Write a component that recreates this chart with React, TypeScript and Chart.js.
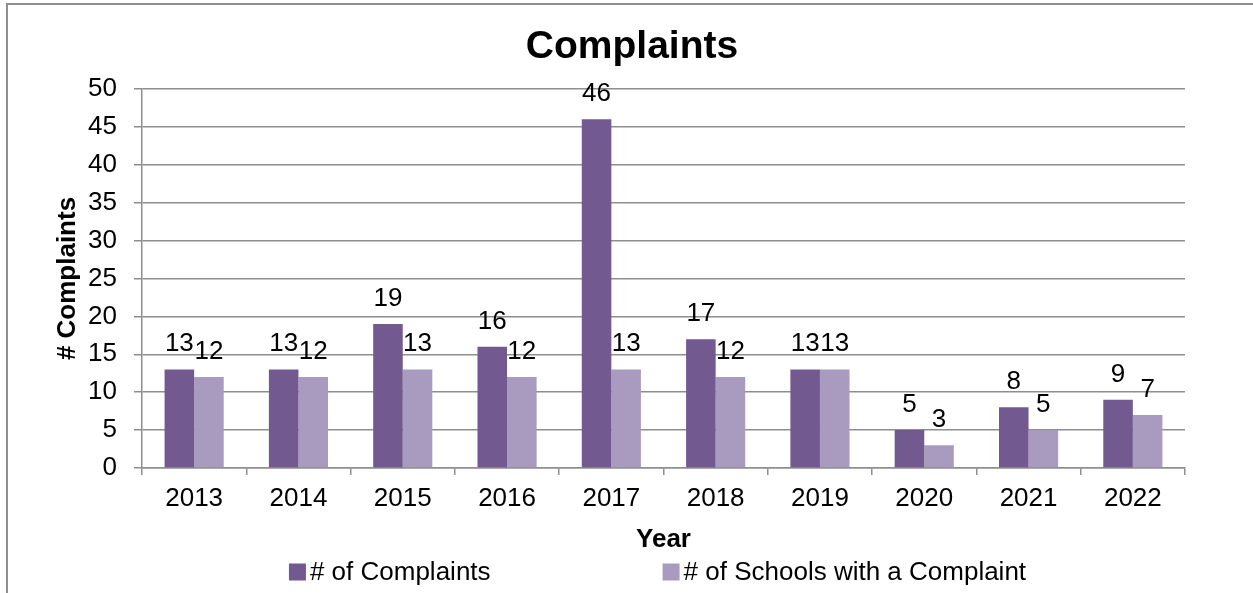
import React, { useEffect, useRef } from "react";
import { Chart, registerables } from "chart.js";

Chart.register(...registerables);

const years = ["2013", "2014", "2015", "2016", "2017", "2018", "2019", "2020", "2021", "2022"];
const complaints = [13, 13, 19, 16, 46, 17, 13, 5, 8, 9];
const schoolsWithComplaint = [12, 12, 13, 12, 13, 12, 13, 3, 5, 7];
const seriesLabels = ["# of Complaints", "# of Schools with a Complaint"];
const seriesColors = ["#725A91", "#A99BBF"];

const FONT = "'Liberation Sans', Arial, sans-serif";
const GRID = "#8e8e8e";

const frame = {
  id: "frame",
  beforeDraw(chart: any) {
    const ctx = chart.ctx;
    ctx.save();
    ctx.fillStyle = "#ffffff";
    ctx.fillRect(0, 0, chart.width, chart.height);
    ctx.strokeStyle = GRID;
    ctx.lineWidth = 2;
    ctx.strokeRect(7, 4, chart.width + 100, chart.height + 100);
    ctx.restore();
  },
};

const valueLabels = {
  id: "valueLabels",
  afterDatasetsDraw(chart: any) {
    const ctx = chart.ctx;
    ctx.save();
    ctx.font = `26px ${FONT}`;
    ctx.fillStyle = "#000000";
    ctx.textAlign = "center";
    ctx.textBaseline = "alphabetic";
    chart.data.datasets.forEach((ds: any, i: number) => {
      const meta = chart.getDatasetMeta(i);
      meta.data.forEach((bar: any, j: number) => {
        ctx.fillText(String(ds.data[j]), bar.x, bar.y - 18);
      });
    });
    ctx.restore();
  },
};

const bottomLegend = {
  id: "bottomLegend",
  afterDraw(chart: any) {
    const ctx = chart.ctx;
    const area = chart.chartArea;
    ctx.save();
    ctx.font = `26px ${FONT}`;
    ctx.textBaseline = "middle";
    ctx.textAlign = "left";
    const box = 17;
    const boxGap = 4;
    const itemGap = 172;
    const items = chart.data.datasets.map((ds: any) => ({
      label: ds.label,
      color: ds.backgroundColor,
      w: box + boxGap + ctx.measureText(ds.label).width,
    }));
    const total = items.reduce((s: number, it: any) => s + it.w, 0) + itemGap * (items.length - 1);
    let x = (area.left + area.right) / 2 - 6 - total / 2;
    const y = 572;
    items.forEach((it: any) => {
      ctx.fillStyle = it.color;
      ctx.fillRect(x, y - box / 2, box, box);
      ctx.fillStyle = "#000000";
      ctx.fillText(it.label, x + box + boxGap, y + 1);
      x += it.w + itemGap;
    });
    ctx.restore();
  },
};

export default function App() {
  const ref = useRef<HTMLCanvasElement | null>(null);

  useEffect(() => {
    document.body.style.margin = "0";
    if (!ref.current) return;
    const chart = new Chart(ref.current, {
      type: "bar",
      data: {
        labels: years,
        datasets: [
          {
            label: seriesLabels[0],
            data: complaints,
            backgroundColor: seriesColors[0],
            borderWidth: 0,
          },
          {
            label: seriesLabels[1],
            data: schoolsWithComplaint,
            backgroundColor: seriesColors[1],
            borderWidth: 0,
          },
        ],
      },
      options: {
        animation: false,
        responsive: true,
        maintainAspectRatio: false,
        layout: { padding: { left: 79, right: 68, top: 0, bottom: 38 } },
        datasets: { bar: { categoryPercentage: 0.567, barPercentage: 1 } },
        plugins: {
          legend: { display: false },
          tooltip: { enabled: false },
          title: {
            display: true,
            text: "Complaints",
            color: "#000000",
            font: { family: FONT, size: 39, weight: "bold" },
            padding: { top: 24, bottom: 18.2 },
          },
        },
        scales: {
          x: {
            afterFit(scale: any) {
              scale.height = 87;
            },
            grid: {
              display: true,
              drawOnChartArea: false,
              drawTicks: true,
              tickLength: 7,
              color: GRID,
              lineWidth: 1.5,
              offset: true,
            },
            border: { display: true, color: GRID, width: 1.5 },
            ticks: {
              color: "#000000",
              font: { family: FONT, size: 26 },
              padding: 8,
              maxRotation: 0,
            },
            title: {
              display: true,
              text: "Year",
              color: "#000000",
              font: { family: FONT, size: 26, weight: "bold" },
              padding: { top: 0, bottom: 0 },
            },
          },
          y: {
            min: 0,
            max: 50,
            afterFit(scale: any) {
              scale.width = 63;
            },
            grid: {
              color: GRID,
              lineWidth: 1.5,
              drawTicks: true,
              tickLength: 8,
            },
            border: { display: true, color: GRID, width: 1.5 },
            ticks: {
              stepSize: 5,
              color: "#000000",
              font: { family: FONT, size: 26 },
              padding: 17,
            },
            title: {
              display: true,
              text: "# Complaints",
              color: "#000000",
              font: { family: FONT, size: 26, weight: "bold" },
              padding: { top: -26.6, bottom: 0 },
            },
          },
        },
      },
      plugins: [frame, valueLabels, bottomLegend],
    });
    return () => chart.destroy();
  }, []);

  return (
    <div style={{ position: "absolute", left: 0, top: 0, width: 1253, height: 593 }}>
      <canvas ref={ref} />
    </div>
  );
}
